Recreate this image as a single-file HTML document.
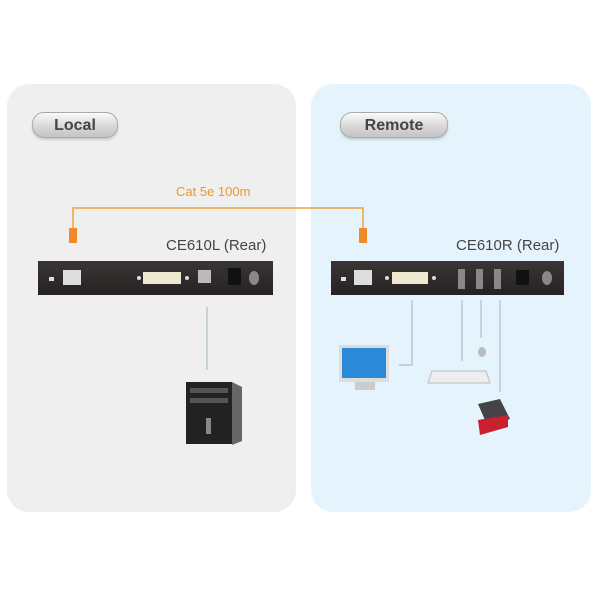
<!DOCTYPE html>
<html><head><style>
body{margin:0;width:600px;height:600px;background:#fff;position:relative;overflow:hidden;font-family:"Liberation Sans",sans-serif}
.panel{position:absolute;top:84px;height:428px;border-radius:22px}
.pill{position:absolute;height:24px;border-radius:12px;background:linear-gradient(#fafafa,#d8d8d8 55%,#c4c4c4);border:1px solid #aaa;box-shadow:0 2px 2px rgba(0,0,0,.15);font-weight:bold;font-size:16px;color:#444;text-align:center;line-height:25px}
.dev{position:absolute;top:261px;height:34px;background:linear-gradient(#3a3636,#262222);}
.lbl{position:absolute;font-size:15px;color:#444}
</style></head><body>
<div class="panel" style="left:7px;width:289px;background:#efefef"></div>
<div class="panel" style="left:311px;width:280px;background:#e5f4fc"></div>
<div class="pill" style="left:32px;top:112px;width:84px">Local</div>
<div class="pill" style="left:340px;top:112px;width:106px">Remote</div>
<div class="lbl" style="left:176px;top:184px;font-size:13px;color:#f0962a">Cat 5e 100m</div>
<div class="lbl" style="left:166px;top:237px">CE610L (Rear)</div>
<div class="lbl" style="left:456px;top:237px">CE610R (Rear)</div>
<div class="dev" style="left:38px;width:235px"></div>
<div class="dev" style="left:331px;width:233px"></div>
<svg width="600" height="600" style="position:absolute;left:0;top:0">
<path d="M73 228 V208 H363 V228" stroke="#f0a040" stroke-width="1.5" fill="none"/>
<rect x="69" y="228" width="8" height="15" fill="#f08a28"/>
<rect x="359" y="228" width="8" height="15" fill="#f08a28"/>
<g fill="#ddd">
<rect x="49" y="277" width="5" height="4"/><rect x="63" y="270" width="18" height="15"/>
<rect x="143" y="272" width="38" height="12" fill="#eee8d0"/><circle cx="139" cy="278" r="2"/><circle cx="187" cy="278" r="2"/>
<rect x="198" y="270" width="13" height="13" fill="#bbb"/><rect x="228" y="268" width="13" height="17" fill="#111"/><ellipse cx="254" cy="278" rx="5" ry="7" fill="#888"/>
<rect x="341" y="277" width="5" height="4"/><rect x="354" y="270" width="18" height="15"/>
<rect x="392" y="272" width="36" height="12" fill="#eee8d0"/><circle cx="387" cy="278" r="2"/><circle cx="434" cy="278" r="2"/>
<rect x="458" y="269" width="7" height="20" fill="#888"/><rect x="476" y="269" width="7" height="20" fill="#888"/><rect x="494" y="269" width="7" height="20" fill="#888"/>
<rect x="516" y="270" width="13" height="15" fill="#111"/><ellipse cx="547" cy="278" rx="5" ry="7" fill="#888"/>
</g>
<g stroke="#a9bfcd" stroke-width="1.2" fill="none">
<path d="M207 307 V370"/>
<path d="M412 300 V365 H399"/><path d="M462 300 V361"/><path d="M481 300 V338"/><path d="M500 300 V392"/>
</g>
<rect x="186" y="382" width="46" height="62" fill="#222"/><rect x="190" y="388" width="38" height="5" fill="#555"/><rect x="190" y="398" width="38" height="5" fill="#555"/><rect x="206" y="418" width="5" height="16" fill="#888"/><path d="M232 382 l10 5 v54 l-10 4z" fill="#666"/>
<rect x="339" y="345" width="50" height="37" fill="#ddd"/><rect x="342" y="348" width="44" height="30" fill="#2a8ad8"/><rect x="355" y="382" width="20" height="8" fill="#ccc"/>
<path d="M432 371 h54 l4 12 h-62z" fill="#eee" stroke="#bbb"/>
<ellipse cx="482" cy="352" rx="4" ry="5" fill="#bbb"/>
<path d="M478 404 l22 -5 l10 20 l-22 8z" fill="#444"/><path d="M478 420 l30 -5 v12 l-28 8z" fill="#c8202e"/>
</svg>
</body></html>
